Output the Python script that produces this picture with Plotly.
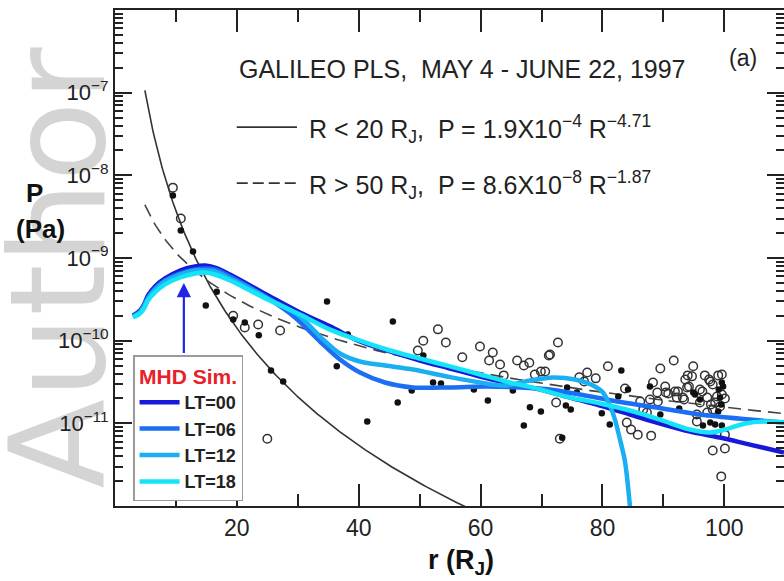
import numpy as np
import plotly.graph_objects as go

# ---------------- data ----------------
# power-law fits quoted in the figure: P = A * R**k
FIT_IN_A, FIT_IN_K = 1.9e-4, -4.71     # R < 20 RJ
FIT_OUT_A, FIT_OUT_K = 8.6e-8, -1.87   # R > 50 RJ
FIT_R_START = 4.9

# Galileo PLS points: filled dots
R_filled = [9.5, 10.8, 12.8, 14.9, 16.7, 19.4, 21.3, 23.6, 29.2, 34.8, 25.6, 27.6, 38.2, 36.4,
            41.4, 45.6, 46.4, 48.7, 50.6, 52.2, 53.5, 58.9, 61.2, 65.3, 68.1, 69.9, 67.1, 73.4,
            74.0, 74.8, 74.2, 75.8, 79.9, 81.2, 82.6, 83.1, 84.2, 87.8, 89.5, 92.6, 95.2, 96.0,
            96.5, 97.7, 98.5, 99.0, 99.6, 99.8, 99.6, 94.9, 99.3, 99.5, 99.1]
P_filled = [5.7e-9, 2.15e-9, 1.2e-9, 2.67e-10, 3.9e-10, 1.8e-10, 1.66e-10, 1.16e-10, 2.19e-10,
            2.98e-10, 4.36e-11, 3.2e-11, 1.19e-10, 4.9e-11, 1.05e-11, 1.71e-10, 1.79e-11, 2.5e-11,
            6.6e-11, 3.12e-11, 3.03e-11, 2.57e-11, 1.89e-11, 2.5e-11, 1.56e-11, 1.39e-11, 9.4e-12,
            6.7e-12, 1.64e-11, 1.47e-11, 2.72e-11, 2.36e-11, 1.32e-11, 9.7e-12, 2.11e-11, 4.36e-11,
            2.57e-11, 2.79e-11, 1.28e-11, 1.51e-11, 2.23e-11, 1.94e-11, 9.4e-12, 1.02e-11, 9.7e-12,
            1.39e-11, 3.12e-11, 2.79e-11, 9.4e-12, 2.36e-11, 2.05e-11, 1.69e-11, 2.57e-11]

# Galileo PLS points: open circles
R_open = [9.5, 10.8, 19.4, 21.3, 23.5, 27.1, 25.0, 49.7, 50.6, 53.0, 54.3, 57.0, 59.9, 62.0,
          61.4, 63.2, 63.8, 66.0, 67.1, 68.0, 68.9, 69.9, 70.6, 71.2, 72.7, 72.4, 73.0, 76.2,
          77.0, 77.5, 78.9, 80.9, 83.7, 84.0, 84.7, 85.8, 88.0, 89.5, 91.7, 88.3, 90.3, 86.2,
          86.7, 87.8, 89.0, 90.8, 92.2, 93.2, 92.4, 93.6, 94.0, 94.9, 93.9, 96.0, 96.8, 97.5,
          98.1, 99.0, 99.6, 98.8, 99.6, 100.1, 98.5, 99.3, 97.8, 95.5, 95.5, 97.2, 97.2, 100.1,
          98.1, 100.1, 99.5, 71.4, 96.0, 98.1, 89.1, 90.4, 91.9, 93.4, 94.7, 87.3, 96.4, 94.2, 97.7]
P_open = [7.1e-9, 3.0e-9, 2.0e-10, 1.44e-10, 1.57e-10, 1.33e-10, 6.5e-12, 7.6e-11, 1.0e-10,
          1.37e-10, 9.5e-11, 6.3e-11, 8.5e-11, 7.2e-11, 5.75e-11, 5.15e-11, 3.8e-11, 5.75e-11,
          5.0e-11, 5.4e-11, 3.9e-11, 4.24e-11, 4.24e-11, 6.6e-11, 9.5e-11, 1.79e-11, 6.5e-12,
          3.6e-11, 3.2e-11, 4.12e-11, 3.5e-11, 4.9e-11, 2.64e-11, 1.02e-11, 8.4e-12, 7.3e-12,
          7.1e-12, 4.6e-11, 5.75e-11, 3.12e-11, 2.79e-11, 1.84e-11, 1.47e-11, 1.94e-11, 2.36e-11,
          2.3e-11, 2.05e-11, 2.05e-11, 2.43e-11, 3.39e-11, 3.8e-11, 4.9e-11, 2.72e-11, 2.57e-11,
          3.8e-11, 3.39e-11, 2.95e-11, 3.8e-11, 3.9e-11, 2.11e-11, 2.23e-11, 2.0e-11, 1.79e-11,
          1.6e-11, 1.69e-11, 1.05e-11, 1.28e-11, 1.35e-11, 2.05e-11, 7.3e-12, 4.7e-12, 4.95e-12,
          2.28e-12, 6.8e-11, 1.79e-11, 1.47e-11, 1.84e-11, 2.36e-11, 2.43e-11, 1.94e-11, 3.7e-11,
          1.35e-11, 2.43e-11, 2.79e-11, 3.2e-11]

# MHD simulation profiles
R_lt00 = [2.95, 4.10, 4.76, 5.42, 6.56, 8.21, 10.67, 13.13, 14.77, 16.41, 18.87, 22.16, 25.44,
          30.36, 35.29, 40.21, 45.13, 50.06, 54.98, 59.90, 64.83, 69.75, 74.68, 79.60, 84.52,
          89.45, 94.37, 99.29, 104.2, 109.8]
P_lt00 = [2.02e-10, 2.32e-10, 2.74e-10, 3.52e-10, 4.52e-10, 5.65e-10, 7.06e-10, 7.89e-10, 8.11e-10,
          7.67e-10, 6.31e-10, 4.65e-10, 3.42e-10, 2.19e-10, 1.49e-10, 9.77e-11, 7.40e-11, 5.75e-11,
          4.61e-11, 3.69e-11, 3.03e-11, 2.57e-11, 2.05e-11, 1.64e-11, 1.28e-11, 9.95e-12, 7.96e-12,
          6.73e-12, 5.53e-12, 4.43e-12]

R_lt06 = [2.95, 4.10, 4.76, 5.42, 6.56, 8.21, 10.67, 13.13, 14.77, 16.41, 18.87, 22.16, 25.44,
          29.54, 33.65, 36.93, 40.21, 44.31, 48.90, 54.98, 61.05, 66.47, 71.39, 76.32, 82.39,
          87.81, 96.01, 104.2, 109.8]
P_lt06 = [1.96e-10, 2.25e-10, 2.67e-10, 3.33e-10, 4.28e-10, 5.35e-10, 6.50e-10, 7.26e-10, 7.46e-10,
          7.26e-10, 5.97e-10, 4.40e-10, 3.15e-10, 1.91e-10, 9.77e-11, 5.92e-11, 4.12e-11, 3.12e-11,
          2.72e-11, 2.72e-11, 2.79e-11, 2.72e-11, 2.57e-11, 2.23e-11, 1.84e-11, 1.60e-11, 1.28e-11,
          1.11e-11, 1.02e-11]

R_lt12 = [2.95, 4.10, 4.76, 5.42, 6.56, 8.21, 10.67, 13.13, 14.77, 16.41, 18.87, 22.16, 25.44,
          30.36, 33.65, 36.93, 40.21, 44.31, 48.90, 54.49, 59.90, 64.0, 68.11, 71.89, 75.50,
          78.45, 80.09, 81.24, 82.06, 82.88, 83.70, 84.52]
P_lt12 = [1.96e-10, 2.19e-10, 2.59e-10, 3.24e-10, 4.16e-10, 5.20e-10, 6.31e-10, 7.06e-10, 7.06e-10,
          6.87e-10, 5.65e-10, 4.28e-10, 3.15e-10, 1.96e-10, 1.12e-10, 7.00e-11, 5.60e-11, 5.01e-11,
          4.48e-11, 3.69e-11, 3.12e-11, 2.87e-11, 3.30e-11, 3.59e-11, 3.39e-11, 2.87e-11, 2.36e-11,
          1.64e-11, 1.11e-11, 6.37e-12, 3.45e-12, 9.86e-13]

R_lt18 = [2.95, 4.10, 4.76, 5.42, 6.56, 8.21, 10.67, 13.13, 14.77, 16.41, 18.87, 22.16, 25.44,
          30.36, 35.29, 40.21, 45.13, 50.06, 54.98, 59.90, 64.83, 69.75, 74.68, 79.60, 84.52,
          89.45, 94.37, 97.65, 100.11, 103.40, 106.68, 109.8]
P_lt18 = [1.91e-10, 2.13e-10, 2.45e-10, 3.06e-10, 3.83e-10, 4.79e-10, 5.81e-10, 6.50e-10, 6.68e-10,
          6.31e-10, 5.35e-10, 4.05e-10, 3.06e-10, 2.07e-10, 1.36e-10, 1.00e-10, 7.60e-11, 6.08e-11,
          4.88e-11, 3.90e-11, 3.12e-11, 2.57e-11, 2.05e-11, 1.74e-11, 1.43e-11, 1.11e-11, 8.41e-12,
          7.74e-12, 8.41e-12, 9.95e-12, 1.05e-11, 1.02e-11]

SIM_NAMES = ["LT=00", "LT=06", "LT=12", "LT=18"]
SIM_COLORS = ["#1818D8", "#1C6EF2", "#1AAEF2", "#14E4F6"]

ARROW_R = 11.3
ARROW_TIP_P = 5.0e-10
ARROW_TAIL_P = 6.8e-11

X_TICKS = [20, 40, 60, 80, 100]
X_MINOR = [10, 30, 50, 70, 90]
Y_TICKS = [1e-11, 1e-10, 1e-9, 1e-8, 1e-7]
Y_TICKTEXT = ["10<sup>−11</sup>", "10<sup>−10</sup>", "10<sup>−9</sup>", "10<sup>−8</sup>", "10<sup>−7</sup>"]
Y_MINOR = [m * 10.0 ** e for e in range(-12, -6) for m in range(2, 10)]

# ---------------- figure ----------------
FONT = "Liberation Sans, Arial, sans-serif"
INK = "#222222"

fig = go.Figure()

r_in = np.linspace(FIT_R_START, 60, 300)
r_out = np.linspace(FIT_R_START, 110, 300)
fig.add_trace(go.Scatter(x=r_in, y=FIT_IN_A * r_in ** FIT_IN_K, mode="lines",
                         line=dict(color="#333333", width=1.6), showlegend=False, hoverinfo="skip"))
fig.add_trace(go.Scatter(x=r_out, y=FIT_OUT_A * r_out ** FIT_OUT_K, mode="lines",
                         line=dict(color="#444444", width=1.6, dash="13px,7px"),
                         showlegend=False, hoverinfo="skip"))

fig.add_trace(go.Scatter(x=R_open, y=P_open, mode="markers", showlegend=False,
                         marker=dict(symbol="circle-open", size=8.5, color="#333333",
                                     line=dict(width=1.5, color="#333333"))))
fig.add_trace(go.Scatter(x=R_filled, y=P_filled, mode="markers", showlegend=False,
                         marker=dict(symbol="circle", size=6.5, color="#111111")))

for name, color, rr, pp in zip(SIM_NAMES, SIM_COLORS,
                               [R_lt00, R_lt06, R_lt12, R_lt18],
                               [P_lt00, P_lt06, P_lt12, P_lt18]):
    fig.add_trace(go.Scatter(x=rr, y=pp, mode="lines", name=name,
                             line=dict(color=color, width=4.5, shape="spline", smoothing=0.9)))

axis_common = dict(showline=True, linecolor=INK, linewidth=2, mirror="allticks",
                   ticks="inside", tickcolor=INK, tickwidth=1.8, showgrid=False, zeroline=False)

fig.update_xaxes(range=[0, 109.8], tickvals=X_TICKS, ticklen=22,
                 tickfont=dict(family=FONT, size=23, color=INK),
                 minor=dict(tickvals=X_MINOR, ticks="inside", ticklen=12, tickwidth=1.8,
                            tickcolor=INK, showgrid=False),
                 **axis_common)
fig.update_yaxes(type="log", range=[-12, -6], tickvals=Y_TICKS, ticktext=Y_TICKTEXT, ticklen=17,
                 tickfont=dict(family=FONT, size=22, color=INK),
                 minor=dict(tickvals=Y_MINOR, ticks="inside", ticklen=8, tickwidth=1.5,
                            tickcolor=INK, showgrid=False),
                 **axis_common)

txt = dict(family=FONT, size=25, color=INK)
annotations = [
    dict(text="GALILEO PLS,  MAY 4 - JUNE 22, 1997", xref="paper", yref="paper",
         x=0.182, y=0.881, xanchor="left", yanchor="middle", showarrow=False, font=txt),
    dict(text="R < 20 R<sub>J</sub>,  P = 1.9X10<sup>−4</sup> R<sup>−4.71</sup>", xref="paper",
         yref="paper", x=0.287, y=0.760, xanchor="left", yanchor="middle", showarrow=False, font=txt),
    dict(text="R > 50 R<sub>J</sub>,  P = 8.6X10<sup>−8</sup> R<sup>−1.87</sup>", xref="paper",
         yref="paper", x=0.287, y=0.647, xanchor="left", yanchor="middle", showarrow=False, font=txt),
    dict(text="(a)", xref="paper", yref="paper", x=0.939, y=0.903, xanchor="center",
         yanchor="middle", showarrow=False, font=dict(family=FONT, size=23, color=INK)),
    dict(text="<b>P</b>", xref="paper", yref="paper", x=-0.120, y=0.631, xanchor="center",
         yanchor="middle", showarrow=False, font=dict(family=FONT, size=26, color="#111")),
    dict(text="<b>(Pa)</b>", xref="paper", yref="paper", x=-0.112, y=0.558, xanchor="center",
         yanchor="middle", showarrow=False, font=dict(family=FONT, size=26, color="#111")),
    dict(text="<b>r (R<sub>J</sub>)</b>", xref="paper", yref="paper", x=0.517, y=-0.112,
         xanchor="center", yanchor="middle", showarrow=False,
         font=dict(family=FONT, size=27, color="#111")),
    dict(text="", x=ARROW_R, y=np.log10(ARROW_TIP_P), ax=ARROW_R, ay=np.log10(ARROW_TAIL_P),
         xref="x", yref="y", axref="x", ayref="y", showarrow=True, arrowhead=2, arrowsize=1.3,
         arrowwidth=2.2, arrowcolor="#2323E6"),
]

shapes = [
    dict(type="rect", xref="paper", yref="paper", x0=-0.185, x1=-0.01, y0=0.04, y1=0.92,
         line=dict(width=0), fillcolor="rgba(0,0,0,0)", layer="below",
         label=dict(text="Author", textangle=-90, textposition="middle center",
                    font=dict(family="DejaVu Sans, sans-serif", size=131, color="#d4d4d4"))),
    dict(type="line", xref="paper", yref="paper", x0=0.182, x1=0.272, y0=0.764, y1=0.764,
         line=dict(color="#333333", width=1.8)),
    dict(type="line", xref="paper", yref="paper", x0=0.182, x1=0.272, y0=0.651, y1=0.651,
         line=dict(color="#333333", width=1.8, dash="11px,5px")),
]

fig.update_layout(
    width=784, height=581,
    margin=dict(l=115, r=0, t=10, b=75, autoexpand=False),
    paper_bgcolor="white", plot_bgcolor="white",
    annotations=annotations, shapes=shapes,
    legend=dict(x=0.027, y=0.304, xanchor="left", yanchor="top",
                bgcolor="white", bordercolor="#9a9a9a", borderwidth=1.5,
                font=dict(family=FONT, size=18, color=INK, weight="bold"),
                title=dict(text="<b>MHD Sim.</b>", side="top center",
                           font=dict(family=FONT, size=21, color="#E8202A")),
                tracegroupgap=0, itemwidth=40),
)

fig.write_html("out.html")
